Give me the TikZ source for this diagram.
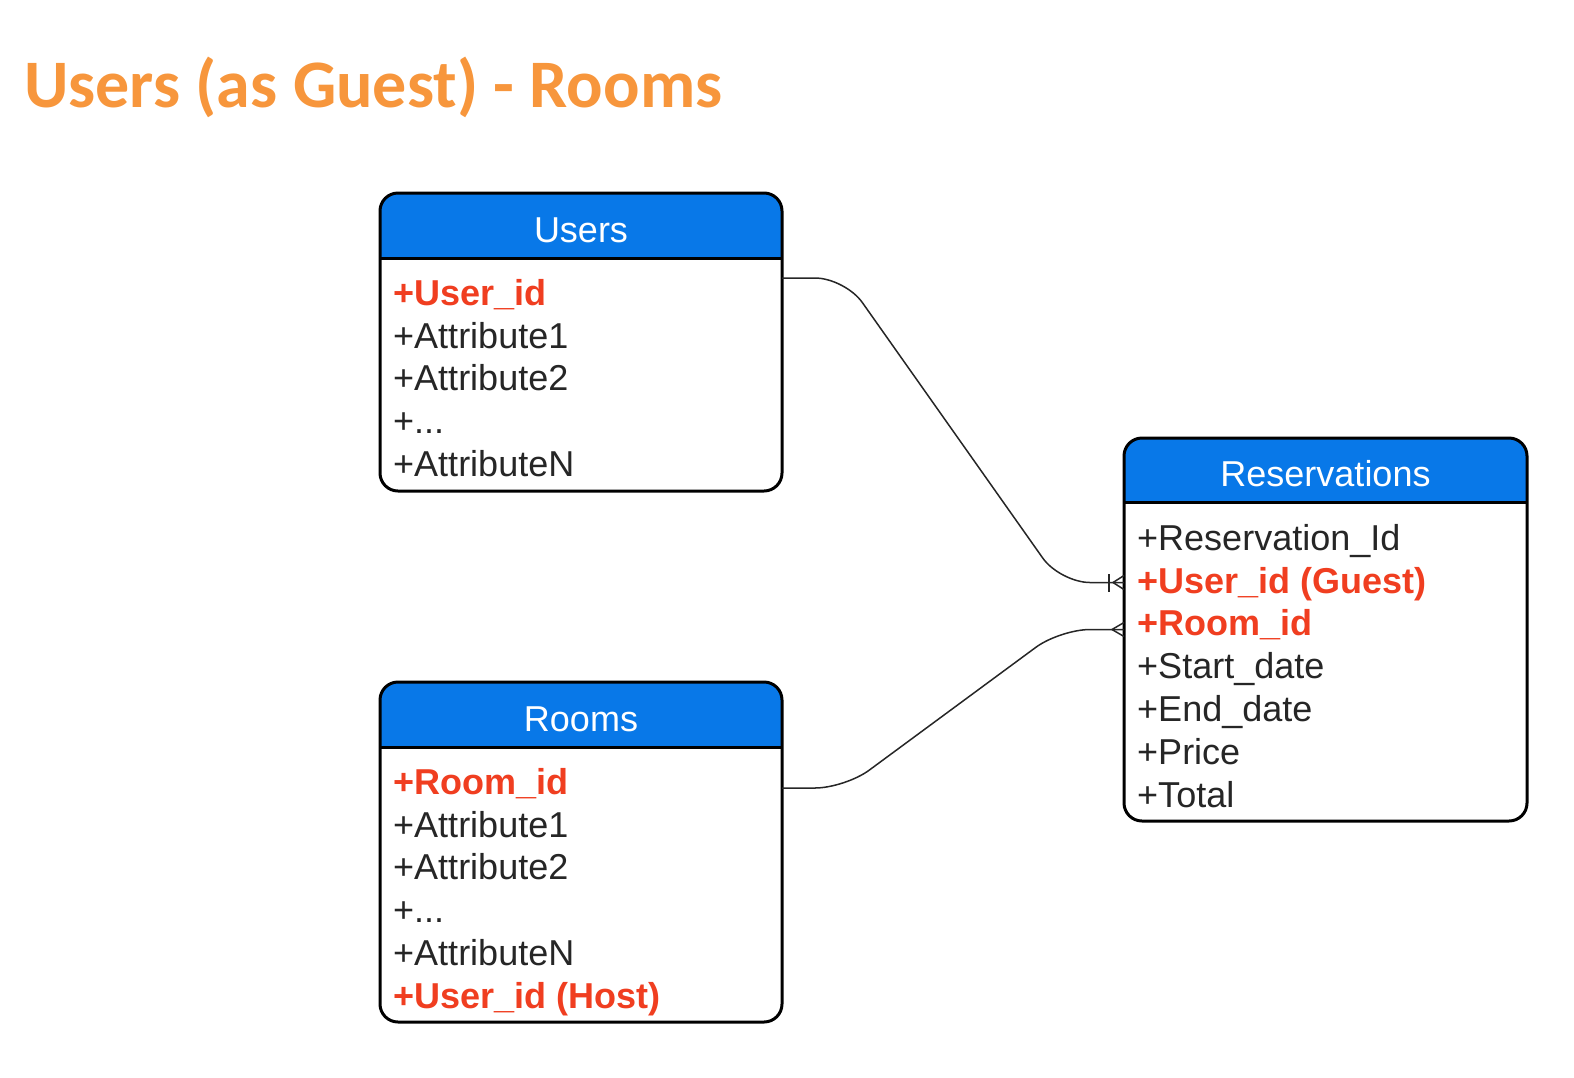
\documentclass[tikz,border=0pt]{standalone}
\usepackage{fontspec}
\setmainfont{Liberation Sans}
\newfontfamily\titlefont{Carlito}
\usetikzlibrary{positioning}

\definecolor{hdrblue}{RGB}{8,120,232}
\definecolor{keyred}{RGB}{240,62,32}
\definecolor{titleorange}{RGB}{247,150,60}

\tikzset{
  tbl/.style={rectangle, rounded corners=18pt, fill=white, inner sep=0, outer sep=0},
  tblline/.style={line width=3pt, rounded corners=18pt},
  hdr/.style={fill=hdrblue},
  headtext/.style={anchor=base, inner sep=0, text=white, font=\fontsize{36}{42}\selectfont},
  attr/.style={anchor=north west, inner sep=0, text height=26pt, text depth=8pt,
    font=\fontsize{36}{42}\selectfont, text=black!85},
  key/.style={attr, text=keyred, font=\fontsize{36}{42}\selectfont\bfseries},
  rel/.style={line width=1.5pt, black!85},
}

\begin{document}
\begin{tikzpicture}[x=1pt,y=-1pt,node distance=8.4pt]
  \useasboundingbox (0,0) rectangle (1574,1077);

  % Title
  \node [anchor=base west, inner sep=0, text=titleorange,
    font=\titlefont\fontsize{68}{80}\selectfont\bfseries] (title) at (24,107)
    {Users (as Guest) - Rooms};

  % Tables
  \node [tbl, minimum width=402pt, minimum height=298pt] (users) at (581,342) {};
  \node [tbl, minimum width=403pt, minimum height=383pt] (reservations) at (1325.5,629.5) {};
  \node [tbl, minimum width=402pt, minimum height=340pt] (rooms) at (581,852) {};

  % Headers
  \fill [hdr, rounded corners=18pt] (users.north west) rectangle ([yshift=-65pt]users.north east);
  \fill [hdr] ([yshift=-30pt]users.north west) rectangle ([yshift=-65pt]users.north east);
  \fill [hdr, rounded corners=18pt] (reservations.north west) rectangle ([yshift=-64pt]reservations.north east);
  \fill [hdr] ([yshift=-30pt]reservations.north west) rectangle ([yshift=-64pt]reservations.north east);
  \fill [hdr, rounded corners=18pt] (rooms.north west) rectangle ([yshift=-65pt]rooms.north east);
  \fill [hdr] ([yshift=-30pt]rooms.north west) rectangle ([yshift=-65pt]rooms.north east);

  \draw [line width=3pt] ([yshift=-65pt]users.north west) -- ([yshift=-65pt]users.north east);
  \draw [line width=3pt] ([yshift=-64pt]reservations.north west) -- ([yshift=-64pt]reservations.north east);
  \draw [line width=3pt] ([yshift=-65pt]rooms.north west) -- ([yshift=-65pt]rooms.north east);

  \draw [tblline] (users.north west) rectangle (users.south east);
  \draw [tblline] (reservations.north west) rectangle (reservations.south east);
  \draw [tblline] (rooms.north west) rectangle (rooms.south east);

  \node [headtext] (users-title) at ([yshift=-49pt]users.north) {Users};
  \node [headtext] (reservations-title) at ([yshift=-48pt]reservations.north) {Reservations};
  \node [headtext] (rooms-title) at ([yshift=-49pt]rooms.north) {Rooms};

  % Users attributes
  \node [key] (u1) at (393,279) {+User\_id};
  \node [attr, below=of u1.south west, anchor=north west] (u2) {+Attribute1};
  \node [attr, below=of u2.south west, anchor=north west] (u3) {+Attribute2};
  \node [attr, below=of u3.south west, anchor=north west] (u4) {+...};
  \node [attr, below=of u4.south west, anchor=north west] (u5) {+AttributeN};

  % Reservations attributes
  \node [attr] (r1) at (1137,524) {+Reservation\_Id};
  \node [key, below=of r1.south west, anchor=north west] (r2) {+User\_id (Guest)};
  \node [key, below=of r2.south west, anchor=north west] (r3) {+Room\_id};
  \node [attr, below=of r3.south west, anchor=north west] (r4) {+Start\_date};
  \node [attr, below=of r4.south west, anchor=north west] (r5) {+End\_date};
  \node [attr, below=of r5.south west, anchor=north west] (r6) {+Price};
  \node [attr, below=of r6.south west, anchor=north west] (r7) {+Total};

  % Rooms attributes
  \node [key] (m1) at (393,768) {+Room\_id};
  \node [attr, below=of m1.south west, anchor=north west] (m2) {+Attribute1};
  \node [attr, below=of m2.south west, anchor=north west] (m3) {+Attribute2};
  \node [attr, below=of m3.south west, anchor=north west] (m4) {+...};
  \node [attr, below=of m4.south west, anchor=north west] (m5) {+AttributeN};
  \node [key, below=of m5.south west, anchor=north west] (m6) {+User\_id (Host)};

  % Connector ends
  \coordinate (u-out) at ([yshift=-85pt]users.north east);
  \coordinate (m-out) at ([yshift=-106pt]rooms.north east);
  \coordinate (r-guest) at ([yshift=47pt]reservations.west);
  \coordinate (r-host) at (reservations.west);

  % Relations
  \draw [rel, rounded corners=30pt] (u-out) -- ++(63,0) -- ([xshift=-64pt]r-guest) -- (r-guest);
  \draw [rel, rounded corners=30pt] (m-out) -- ++(63,0) -- ([xshift=-64pt]r-host) -- (r-host);

  % one-or-many
  \draw [rel] ([xshift=-15pt,yshift=-9pt]r-guest) -- ([xshift=-15pt,yshift=9pt]r-guest);
  \draw [rel] ([yshift=-7pt]r-guest) -- ([xshift=-11pt]r-guest) -- ([yshift=7pt]r-guest);
  % many
  \draw [rel] ([yshift=-7pt]r-host) -- ([xshift=-12pt]r-host) -- ([yshift=7pt]r-host);
\end{tikzpicture}
\end{document}
